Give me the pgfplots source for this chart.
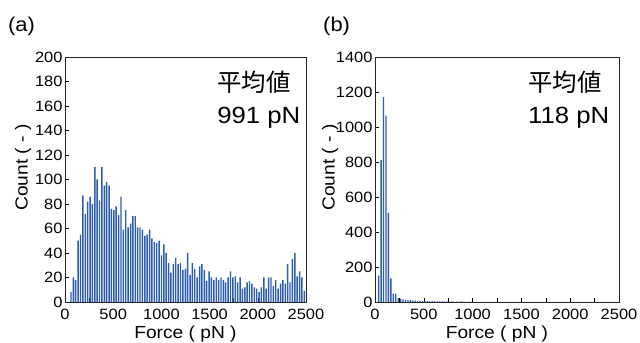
\documentclass[border=0pt]{standalone}
\usepackage{fontspec}
\setmainfont{Liberation Sans}[FakeStretch=1.1]
\newfontfamily\cjk{Noto Sans CJK JP}
\usepackage{pgfplots}
\usepackage{pgfplotstable}
\pgfplotsset{compat=1.18}
\definecolor{barblue}{RGB}{44,92,172}

\pgfplotstableread{
x y
62 8
87 20
111 18
136 50
161 55
185 87
210 72
235 82
260 86
284 80
309 110
334 100
358 83
383 110
408 95
432 98
457 95
482 76
507 75
531 78
556 71
581 86
605 59
630 75
655 61
680 64
704 70
729 70
754 61
778 61
803 59
828 54
852 55
877 59
902 52
926 49
951 48
976 50
1001 38
1025 47
1050 40
1075 32
1099 24
1124 31
1149 36
1173 31
1198 32
1223 26
1248 27
1272 40
1297 22
1322 32
1346 27
1371 20
1396 29
1420 31
1445 26
1470 17
1495 25
1519 20
1544 18
1569 20
1593 18
1618 20
1643 18
1667 16
1692 20
1717 25
1742 20
1766 21
1791 16
1816 20
1840 11
1865 12
1890 16
1914 17
1939 15
1964 12
1989 11
2013 8
2038 12
2063 20
2087 11
2112 20
2137 20
2161 13
2186 18
2211 11
2236 15
2260 18
2285 15
2310 31
2334 16
2359 35
2384 40
2408 21
2433 25
2458 20
2483 9
}\dataA

\pgfplotstableread{
x y
37.5 150
62.5 810
87.5 1170
112.5 1065
137.5 510
162.5 135
187.5 48
212.5 48
237.5 22
262.5 18
287.5 15
312.5 12
337.5 10
362.5 10
387.5 8
412.5 8
437.5 6
462.5 6
487.5 5
512.5 6
537.5 5
562.5 4
587.5 5
612.5 3
637.5 4
662.5 3
687.5 3
712.5 4
737.5 3
762.5 2
787.5 3
812.5 2
837.5 2
862.5 2
887.5 3
912.5 2
937.5 1
962.5 2
987.5 1
1012.5 1
1037.5 1
}\dataB

\pgfplotsset{
  hist/.style={
    scale only axis, anchor=south west, height=245bp,
    xmin=0, xmax=2500, ymin=0,
    xtick={0,500,...,2500}, minor xtick={250,750,...,2250},
    xtick pos=left, ytick pos=left, tick align=inside,
    major tick length=4bp, minor tick length=4bp,
    tick style={black, line width=0.6pt},
    axis line style={black!85, line width=0.8pt},
    scaled ticks=false,
    /pgf/number format/assume math mode=true,
    /pgf/number format/1000 sep={},
    ticklabel style={font=\fontsize{15}{15}\selectfont},
    xticklabel style={yshift=-4bp},
    yticklabel style={xshift=1bp},
    xlabel={Force ( pN )}, ylabel={Count ( - )},
    label style={font=\fontsize{17.5}{18}\selectfont},
    xlabel style={at={(rel axis cs:0.5,-0.149)}, anchor=base},
  }
}

\begin{document}
\begin{tikzpicture}
\path[use as bounding box] (0,0) rectangle (640bp,343bp);
\node[anchor=base west, font=\fontsize{20}{20}\selectfont, inner sep=0] at (8bp,311bp) {(a)};
\node[anchor=base west, font=\fontsize{20}{20}\selectfont, inner sep=0] at (323bp,311bp) {(b)};

\begin{axis}[hist, at={(65bp,41bp)}, width=241bp, ymax=200,
  ytick={0,20,...,200},
  ylabel style={at={(rel axis cs:-0.174,0.549)}, anchor=center}]
\addplot[ybar, bar width=15, fill=barblue, draw=none] table[x=x,y=y] {\dataA};
\node[anchor=base west, font=\cjk\fontsize{24.5}{24.5}\selectfont, inner sep=0] at (rel axis cs:0.631,0.861) {平均値};
\node[anchor=base west, font=\fontsize{23.5}{23.5}\selectfont, inner sep=0] at (rel axis cs:0.631,0.727) {991 pN};
\end{axis}

\begin{axis}[hist, at={(375bp,41bp)}, width=244bp, ymax=1400,
  ytick={0,200,...,1400},
  ylabel style={at={(rel axis cs:-0.184,0.549)}, anchor=center}]
\addplot[ybar, bar width=14, fill=barblue, draw=none] table[x=x,y=y] {\dataB};
\node[anchor=base west, font=\cjk\fontsize{24.5}{24.5}\selectfont, inner sep=0] at (rel axis cs:0.627,0.861) {平均値};
\node[anchor=base west, font=\fontsize{23.5}{23.5}\selectfont, inner sep=0] at (rel axis cs:0.627,0.727) {118 pN};
\end{axis}
\end{tikzpicture}
\end{document}
